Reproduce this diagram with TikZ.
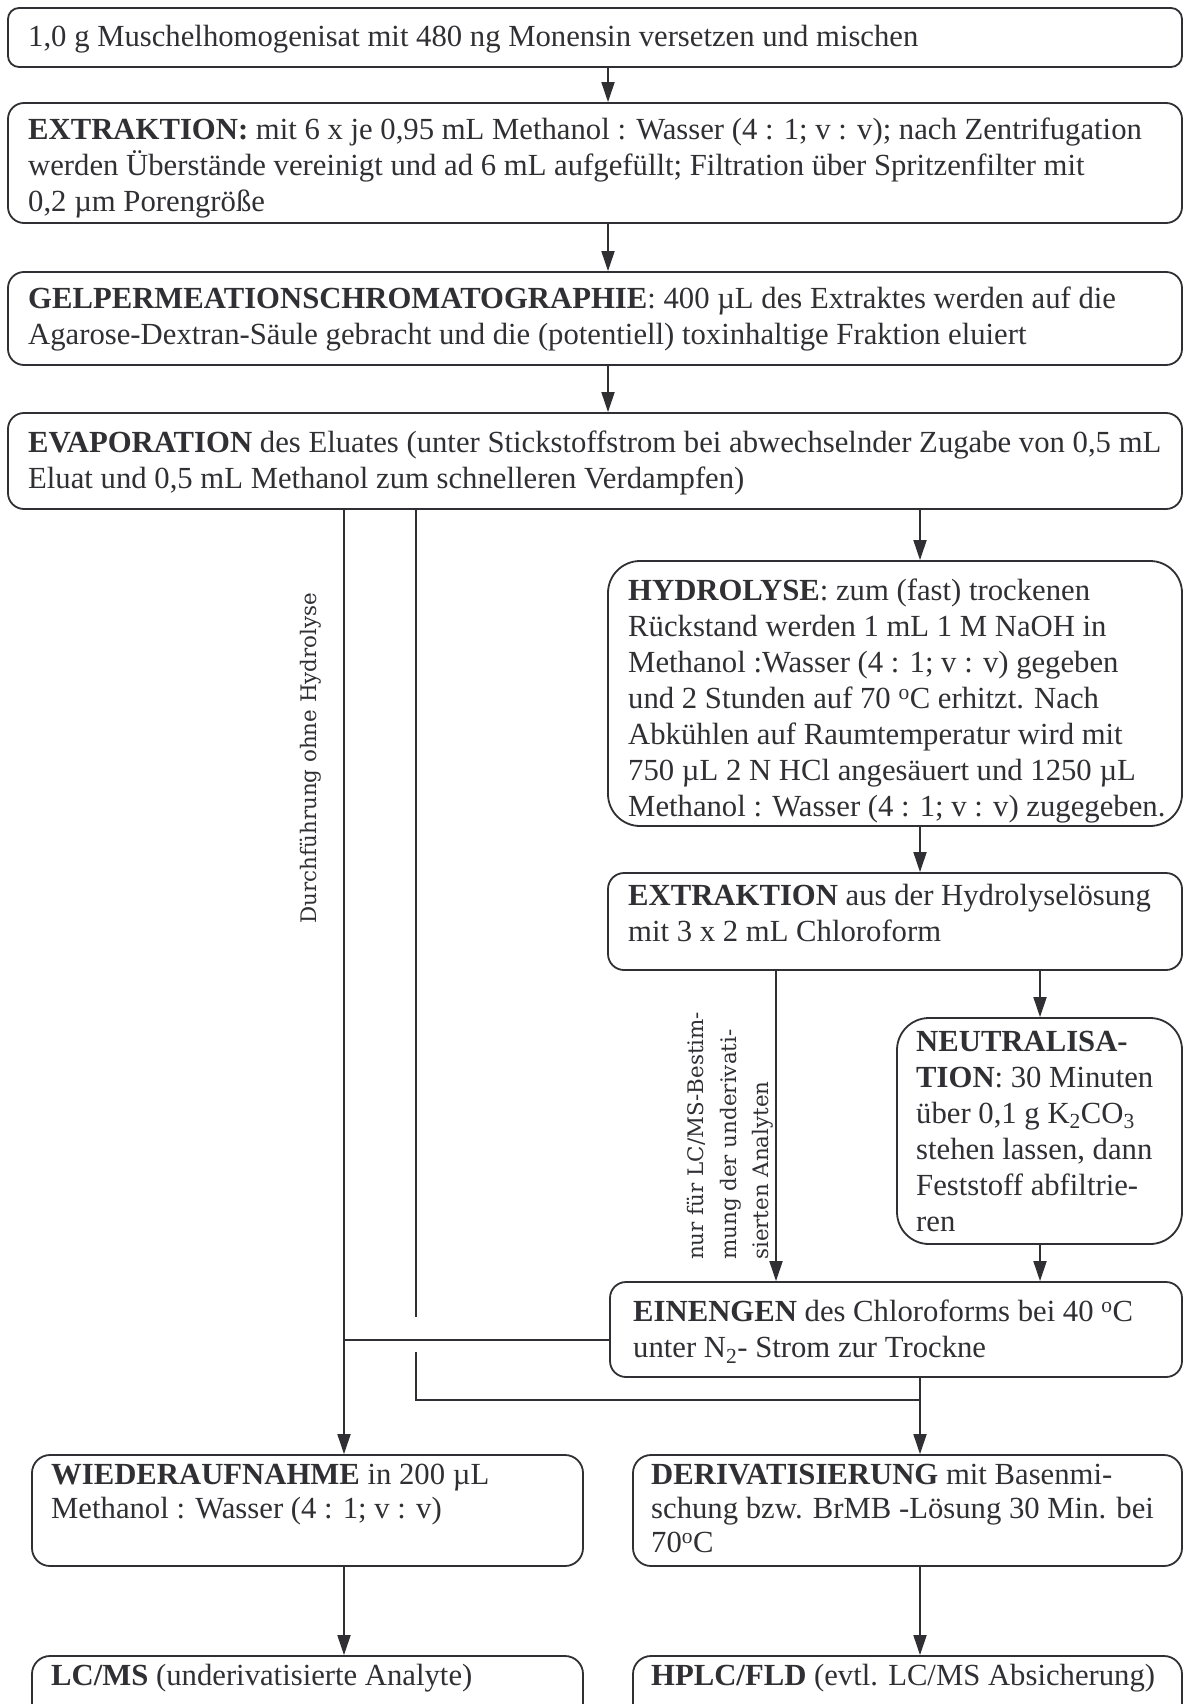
\documentclass[tikz,border=0pt]{standalone}
\usepackage{fontspec}
\setmainfont{Liberation Serif}
\newfontfamily\labelfont{DejaVu Serif}
\usetikzlibrary{arrows.meta,fit}
\definecolor{ink}{RGB}{48,48,52}
\begin{document}
\begin{tikzpicture}[x=1pt,y=-1pt,
  box/.style={draw=ink, line width=1.8pt, rounded corners=#1, inner sep=0pt},
  box/.default=16pt,
  txt/.style={text=ink, inner sep=0pt, align=left, anchor=north west, font=\fontsize{30.7}{36}\selectfont, execute at begin node=\strut},
  tight/.style={font=\fontsize{30.7}{34}\selectfont},
  lbl/.style={text=ink, inner sep=0pt, align=left, rotate=90, font=\labelfont\fontsize{21.4}{32.5}\selectfont},
  link/.style={draw=ink, line width=1.8pt},
  arr/.style={link, -{Triangle[length=20pt,width=13pt]}}
]
\useasboundingbox (0,0) rectangle (1184,1704);
\clip (0,0) rectangle (1184,1704);
\fill[white] (0,0) rectangle (1184,1704);

% boxes
\node[box=11pt, fit={(8,8)(1182,67)}] (b1) {};
\node[box, fit={(8,103)(1182,223)}] (b2) {};
\node[box, fit={(8,272)(1182,365)}] (b3) {};
\node[box, fit={(8,413)(1182,509)}] (b4) {};
\node[box=32pt, fit={(608,561)(1182,826)}] (hyd) {};
\node[box, fit={(608,873)(1182,970)}] (ex2) {};
\node[box=32pt, fit={(897,1018)(1182,1244)}] (neu) {};
\node[box, fit={(610,1282)(1182,1377)}] (ein) {};
\node[box=18pt, fit={(32,1455)(583,1566)}] (wie) {};
\node[box=18pt, fit={(633,1455)(1182,1566)}] (der) {};
\node[box=18pt, fit={(32,1656)(583,1740)}] (lcms) {};
\node[box=18pt, fit={(633,1656)(1182,1740)}] (hplc) {};

% texts (node top = first baseline - 0.7 baselineskip)
\node[txt] (t1) at (28,20.8) {1,0 g Muschelhomogenisat mit 480 ng Monensin versetzen und mischen};
\node[txt] (t2) at (28,117.8) {\textbf{EXTRAKTION:} mit 6 x je 0,95 mL Methanol : Wasser (4 : 1; v : v); nach Zentrifugation\\werden Überstände vereinigt und ad 6 mL aufgefüllt; Filtration über Spritzenfilter mit\\0,2 µm Porengröße};
\node[txt] (t3) at (28,286.8) {\textbf{GELPERMEATIONSCHROMATOGRAPHIE}: 400 µL des Extraktes werden auf die\\Agarose-Dextran-Säule gebracht und die (potentiell) toxinhaltige Fraktion eluiert};
\node[txt] (t4) at (28,430.8) {\textbf{EVAPORATION} des Eluates (unter Stickstoffstrom bei abwechselnder Zugabe von 0,5 mL\\Eluat und 0,5 mL Methanol zum schnelleren Verdampfen)};
\node[txt] (t5) at (628,578.3) {\textbf{HYDROLYSE}: zum (fast) trockenen\\Rückstand werden 1 mL 1 M NaOH in\\Methanol :Wasser (4 : 1; v : v) gegeben\\und 2 Stunden auf 70 \textsuperscript{o}C erhitzt. Nach\\Abkühlen auf Raumtemperatur wird mit\\750 µL 2 N HCl angesäuert und 1250 µL\\Methanol : Wasser (4 : 1; v : v) zugegeben.};
\node[txt] (t6) at (628,883.8) {\textbf{EXTRAKTION} aus der Hydrolyselösung\\mit 3 x 2 mL Chloroform};
\node[txt] (t7) at (916,1030.8) {\textbf{NEUTRALISA-}\\\textbf{TION}: 30 Minuten\\über 0,1 g K\textsubscript{2}CO\textsubscript{3}\\stehen lassen, dann\\Feststoff abfiltrie-\\ren};
\node[txt] (t8) at (633,1299.8) {\textbf{EINENGEN} des Chloroforms bei 40 \textsuperscript{o}C\\unter N\textsubscript{2}- Strom zur Trockne};
\node[txt, tight] (t9) at (51,1464.2) {\textbf{WIEDERAUFNAHME} in 200 µL\\Methanol : Wasser (4 : 1; v : v)};
\node[txt, tight] (t10) at (651,1464.2) {\textbf{DERIVATISIERUNG} mit Basenmi-\\schung bzw. BrMB -Lösung 30 Min. bei\\70\textsuperscript{o}C};
\node[txt] (t11) at (51,1659.8) {\textbf{LC/MS} (underivatisierte Analyte)};
\node[txt] (t12) at (651,1659.8) {\textbf{HPLC/FLD} (evtl. LC/MS Absicherung)};

% rotated labels
\node[lbl, anchor=center] (l1) at (311,758) {Durchführung ohne Hydrolyse};
\node[lbl, anchor=north west] (l2) at (687,1260) {nur für LC/MS-Bestim-\\mung der underivati-\\sierten Analyten};

% column coordinates
\coordinate (cM) at (608,0);
\coordinate (cA) at (344,0);
\coordinate (cB) at (416,0);
\coordinate (cR) at (920,0);
\coordinate (cX) at (776,0);
\coordinate (cN) at (1040,0);
\coordinate (gapT) at (416,1317);
\coordinate (gapB) at (416,1352);
\coordinate (jB) at (416,1400);
\coordinate (hA) at (344,1340);

% connectors
\draw[arr] (b1.south -| cM) -- (b2.north -| cM);
\draw[arr] (b2.south -| cM) -- (b3.north -| cM);
\draw[arr] (b3.south -| cM) -- (b4.north -| cM);
\draw[arr] (b4.south -| cA) -- (wie.north -| cA);
\draw[link] (b4.south -| cB) -- (gapT);
\draw[link] (gapB) -- (jB) -- (jB -| cR);
\draw[arr] (b4.south -| cR) -- (hyd.north -| cR);
\draw[arr] (hyd.south -| cR) -- (ex2.north -| cR);
\draw[arr] (ex2.south -| cN) -- (neu.north -| cN);
\draw[arr] (ex2.south -| cX) -- (ein.north -| cX);
\draw[arr] (neu.south -| cN) -- (ein.north -| cN);
\draw[link] (ein.west |- hA) -- (hA);
\draw[arr] (ein.south -| cR) -- (der.north -| cR);
\draw[arr] (wie.south -| cA) -- (lcms.north -| cA);
\draw[arr] (der.south -| cR) -- (hplc.north -| cR);
\end{tikzpicture}
\end{document}
